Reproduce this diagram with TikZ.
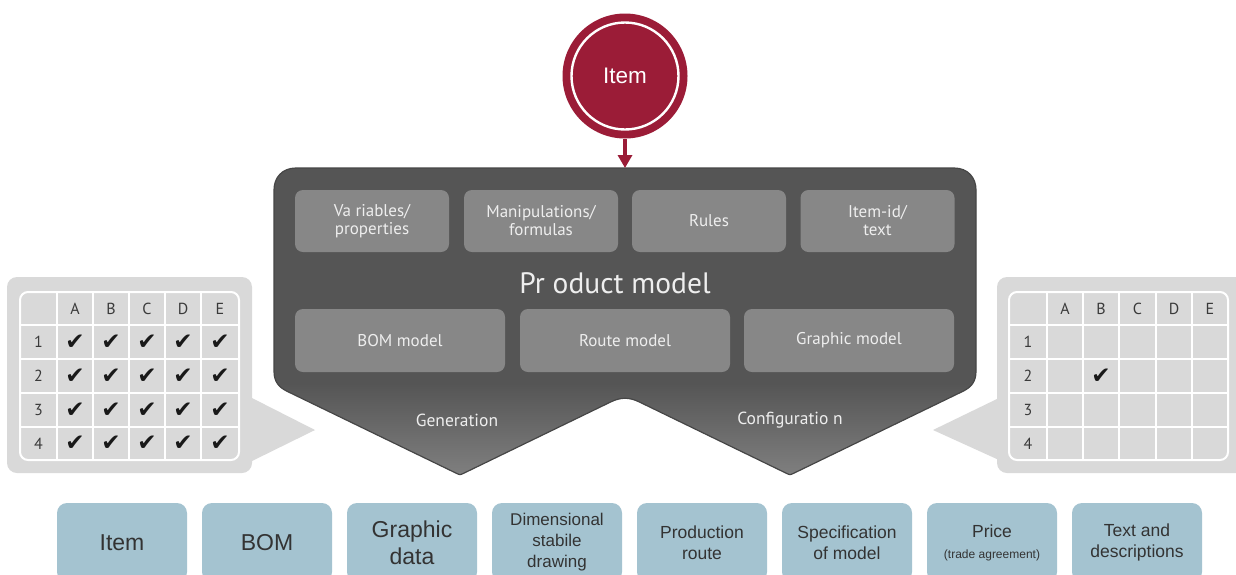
\documentclass[tikz,border=0pt]{standalone}
\usepackage{fontspec}
\usetikzlibrary{arrows.meta}
\newfontfamily\ptsans{PT Sans}
\newfontfamily\arialf{Liberation Sans}
\newfontfamily\djv{DejaVu Sans}
\definecolor{crimson}{HTML}{9B1C37}
\definecolor{darkbox}{HTML}{555555}
\definecolor{darkedge}{HTML}{464646}
\definecolor{lightchev}{HTML}{808080}
\definecolor{innerbox}{HTML}{878787}
\definecolor{innertext}{HTML}{EEEEEE}
\definecolor{calloutc}{HTML}{D9D9D9}
\definecolor{bluebox}{HTML}{A4C3D0}
\definecolor{bluetext}{HTML}{333333}
\definecolor{hdrtext}{HTML}{3A3A3A}
\def\chevpath{(287.5,391.5) .. controls (279,387.4) and (274,382) .. (274,371) -- (274,190) .. controls (274,177.9) and (281.9,168) .. (296,168) -- (954,168) .. controls (968.1,168) and (976,177.9) .. (976,190) -- (976,371) .. controls (976,382) and (971,387.4) .. (962.5,391.5) -- (793.6,473.3) .. controls (790,475) .. (786.4,473.3) -- (639.4,402) .. controls (629,397) and (621,397) .. (610.6,402) -- (463.6,473.3) .. controls (460,475) .. (456.4,473.3) -- cycle}
\begin{document}
\begin{tikzpicture}[x=1pt,y=-1pt,
  innerbox/.style={rectangle, rounded corners=8pt, fill=innerbox, text=innertext,
    font=\ptsans\fontsize{17}{18}\selectfont, align=center, inner sep=0pt},
  topbox/.style={innerbox, minimum width=154pt, minimum height=62pt},
  lowbox/.style={innerbox, minimum width=210pt, minimum height=63pt},
  chevtext/.style={text=innertext, font=\ptsans\fontsize{17.5}{18}\selectfont, inner sep=0pt},
  bluebox/.style={rectangle, rounded corners=10pt, fill=bluebox, text=bluetext,
    minimum width=130pt, minimum height=79pt, align=center, inner sep=0pt},
  bigtext/.style={font=\arialf\fontsize{23}{27}\selectfont},
  midtext/.style={font=\arialf\fontsize{17.5}{21}\selectfont},
  hdr/.style={text=hdrtext, font=\ptsans\fontsize{16}{16}\selectfont, inner sep=0pt},
  chk/.style={text=black!90, font=\djv\fontsize{23}{23}\selectfont, inner sep=0pt},
  grid/.style={white, line width=1.4pt},
  gridframe/.style={white, line width=2pt, rounded corners=8pt},
  callout/.style={fill=calloutc}
]
\useasboundingbox (0,0) rectangle (1236,574);
\fill[white] (0,0) rectangle (1236,574);

% ---------- left callout ----------
\fill[callout, rounded corners=10pt] (7,277) rectangle (252,473);
\fill[callout] (250,397) -- (315,430) -- (250,462) -- cycle;
\draw[gridframe] (20,292) rectangle (239,460);
\foreach \xx in {57,93,129,165,201} \draw[grid] (\xx,292) -- (\xx,460);
\foreach \yy in {325,359,393,427} \draw[grid] (20,\yy) -- (239,\yy);
\foreach \c/\xx in {A/75,B/111,C/147,D/183,E/220}{
  \node[hdr] (L\c) at (\xx,308.5) {\c};
  \foreach \r/\yy in {1/342,2/376,3/410,4/443.5}{
    \node[chk] (L\c\r) at (\xx,\yy) {✔};
  }
}
\foreach \r/\yy in {1/342,2/376,3/410,4/443.5}{
  \node[hdr] (Lr\r) at (38.5,\yy) {\r};
}

% ---------- right callout ----------
\fill[callout, rounded corners=10pt] (997,277) rectangle (1252,473);
\fill[callout] (999,398) -- (933,430) -- (999,460) -- cycle;
\draw[gridframe] (1009,292) rectangle (1228,460);
\foreach \xx in {1047,1083,1119,1156,1192} \draw[grid] (\xx,292) -- (\xx,460);
\foreach \yy in {325,359,393,427} \draw[grid] (1009,\yy) -- (1228,\yy);
\foreach \c/\xx in {A/1065,B/1101,C/1137.5,D/1174,E/1210}{
  \node[hdr] (R\c) at (\xx,308.5) {\c};
}
\foreach \r/\yy in {1/342,2/376,3/410,4/443.5}{
  \node[hdr] (Rr\r) at (1028,\yy) {\r};
}
\node[chk] (RB2) at (1101,376) {✔};

% ---------- product model shape ----------
\fill[darkbox] \chevpath;
\begin{scope}
  \clip \chevpath;
  \shade[top color=darkbox, bottom color=lightchev] (260,383) rectangle (990,477);
\end{scope}
\draw[darkedge, line width=1.2pt] \chevpath;
\coordinate (pmtop) at (625,168);

\node[topbox] (var) at (372,221) {Va riables/\\properties};
\node[topbox] (man) at (541,221) {Manipulations/\\formulas};
\node[topbox] (rul) at (709,221) {Rules};
\node[topbox] (iid) at (877.5,221) {Item-id/\\text};

\node[text=innertext, font=\ptsans\fontsize{29.5}{30}\selectfont, inner sep=0pt] (pm) at (615,283) {Pr oduct model};

\node[lowbox] (bomm) at (400,340.5) {BOM model};
\node[lowbox] (rtm) at (625,340.5) {Route model};
\node[lowbox] (grm) at (849,340.5) {Graphic model};

\node[chevtext] (gen) at (457,420) {Generation};
\node[chevtext] (conf) at (790,420) {Configuratio n};

% ---------- item circle ----------
\node[circle, fill=crimson, minimum size=125pt, inner sep=0pt, text=white,
      font=\arialf\fontsize{22.5}{22}\selectfont] (itemc) at (625,76) {Item};
\draw[white, line width=2.4pt] (itemc.center) circle (53.5pt);
\draw[crimson, line width=3.2pt, -{Triangle[width=14pt,length=13pt]}] (itemc.south) -- (pmtop);

% ---------- bottom boxes ----------
\node[bluebox, bigtext] (bItem) at (122,542.5) {Item};
\node[bluebox, bigtext] (bBOM) at (267,542.5) {BOM};
\node[bluebox, bigtext] (bGra) at (412,542.5) {Graphic\\data};
\node[bluebox, font=\arialf\fontsize{17}{21}\selectfont] (bDim) at (557,542.5) {Dimensional\\stabile\\drawing};
\node[bluebox, midtext] (bPro) at (702,542.5) {Production\\route};
\node[bluebox, midtext] (bSpe) at (847,542.5) {Specification\\of model};
\node[bluebox, midtext] (bPri) at (992,542.5) {Price\\{\fontsize{12}{14}\selectfont(trade agreement)}};
\node[bluebox, midtext] (bTxt) at (1137,542.5) {Text and\\descriptions};
\end{tikzpicture}
\end{document}
